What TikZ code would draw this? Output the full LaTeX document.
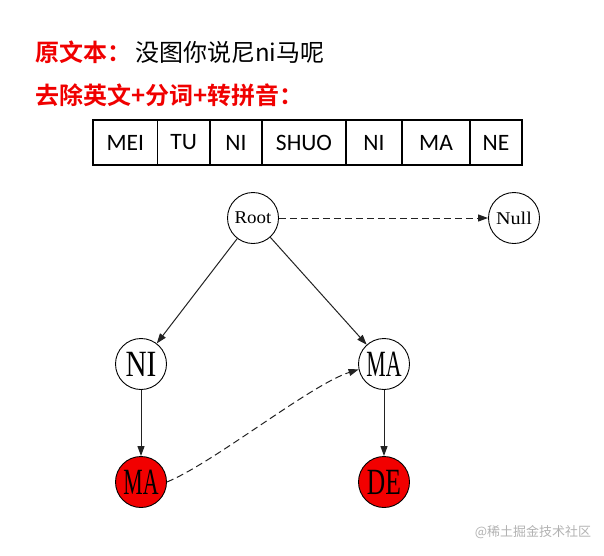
\documentclass[tikz,border=0pt]{standalone}
\usepackage{fontspec}
\usetikzlibrary{arrows.meta}
\newfontfamily\cjkfont{Noto Sans CJK SC}
\newfontfamily\cjkbold{Noto Sans CJK SC Bold}
\newfontfamily\cellfont{Carlito}
\newfontfamily\treefont{Liberation Serif}
\newcommand{\lbl}[2]{\scalebox{#1}[1]{#2}}
\definecolor{titlered}{HTML}{F00000}
\definecolor{nodered}{HTML}{F20000}
\definecolor{edgegray}{HTML}{222222}
\tikzset{
  title/.style={anchor=base west, inner sep=0pt, font=\cjkfont\fontsize{24}{28}\selectfont},
  redtitle/.style={title, text=titlered, font=\cjkbold\fontsize{24}{28}\selectfont},
  cell/.style={draw, line width=1.2pt, minimum height=45pt, inner sep=0pt, font=\cellfont\fontsize{23.5}{27}\selectfont},
  tnode/.style={draw, circle, line width=0.9pt, minimum size=51pt, inner sep=0pt, text=black},
  smalltxt/.style={font=\treefont\fontsize{18}{20}\selectfont},
  bigtxt/.style={font=\treefont\fontsize{37}{40}\selectfont},
  redfill/.style={fill=nodered},
  arr/.style={draw=edgegray, line width=1pt, -{Triangle[length=10pt,width=7pt]}},
  dasharr/.style={arr, dash pattern=on 7pt off 4pt}
}
\begin{document}
\begin{tikzpicture}[x=1pt,y=1pt]
\useasboundingbox (0,0) rectangle (604,-555);
% titles
\node[redtitle] (t1) at (35,-61) {原文本：};
\node[title] (t1b) at (135,-61) {没图你说尼ni马呢};
\node[redtitle] (t2) at (35,-104) {去除英文+分词+转拼音：};
% table
\node[cell, minimum width=64.5pt] (c1) at (125.25,-142.5) {MEI};
\node[cell, minimum width=52.5pt] (c2) at (183.75,-142.5) {TU};
\node[cell, minimum width=52pt] (c3) at (236,-142.5) {NI};
\node[cell, minimum width=84pt] (c4) at (304,-142.5) {SHUO};
\node[cell, minimum width=56pt] (c5) at (374,-142.5) {NI};
\node[cell, minimum width=68pt] (c6) at (436,-142.5) {MA};
\node[cell, minimum width=52pt] (c7) at (496,-142.5) {NE};
% tree
\node[tnode, smalltxt] (root) at (253,-218) {\lbl{1.05}{Root}};
\node[tnode, smalltxt] (null) at (514,-218) {\lbl{1.12}{Null}};
\node[tnode, bigtxt] (ni) at (141,-364) {\lbl{0.79}{NI}};
\node[tnode, bigtxt] (mar) at (384,-364) {\lbl{0.59}{MA}};
\node[tnode, bigtxt, redfill] (mal) at (141,-482) {\lbl{0.59}{MA}};
\node[tnode, bigtxt, redfill] (de) at (384,-482) {\lbl{0.69}{DE}};
\draw[dasharr] (root) -- (null);
\draw[arr] (root) -- (ni);
\draw[arr] (root) -- (mar);
\draw[arr] (ni) -- (mal);
\draw[arr] (mar) -- (de);
\draw[dasharr] (mal.east) .. controls (215,-462) and (310,-385) .. (mar.192);
% watermark
\node[inner sep=0pt, text=black!30, font=\cjkfont\fontsize{13}{15}\selectfont] (wm) at (533,-532) {@稀土掘金技术社区};
\end{tikzpicture}
\end{document}
